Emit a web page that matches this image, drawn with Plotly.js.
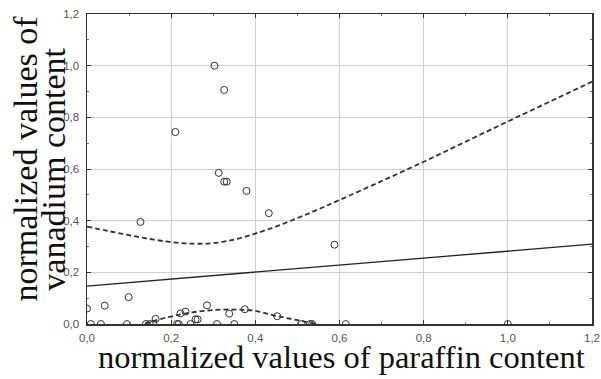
<!DOCTYPE html>
<html>
<head>
<meta charset="utf-8">
<script src="https://cdn.plot.ly/plotly-3.0.1.min.js"></script>
<style>html,body{margin:0;padding:0;background:#fff;}#chart{width:601px;height:379px;}</style>
</head>
<body>
<div id="chart"></div>
<script>
// Observed points (normalized paraffin vs. vanadium)
const paraffin = [0.0, 0.042, 0.099, 0.127, 0.21, 0.303, 0.326, 0.313, 0.326, 0.332, 0.379, 0.432, 0.588,
  0.009, 0.033, 0.095, 0.14, 0.149, 0.163, 0.158, 0.214, 0.218, 0.246, 0.258, 0.263, 0.309, 0.350,
  0.222, 0.234, 0.285, 0.338, 0.375, 0.452, 0.51, 0.53, 0.535, 0.615, 1.0];
const vanadium = [0.06, 0.071, 0.104, 0.395, 0.743, 1.0, 0.906, 0.585, 0.551, 0.551, 0.515, 0.429, 0.307,
  0.0, 0.0, 0.0, 0.0, 0.0, 0.02, 0.0, 0.0, 0.0, 0.0, 0.018, 0.018, 0.0, 0.0,
  0.041, 0.048, 0.072, 0.040, 0.057, 0.030, 0.0, 0.0, 0.0, 0.0, 0.0];

// Regression line
const fitX = [0, 1.2];
const fitY = [0.147, 0.309];

// Upper confidence band
const upperX = [0, 0.05, 0.1, 0.15, 0.2, 0.25, 0.3, 0.35, 0.4, 0.45, 0.5, 0.55, 0.6, 0.7, 0.8, 0.9, 1.0, 1.1, 1.2];
const upperY = [0.377, 0.360, 0.344, 0.329, 0.317, 0.311, 0.313, 0.327, 0.350, 0.378, 0.410, 0.444, 0.480, 0.553, 0.628, 0.706, 0.784, 0.861, 0.938];

// Lower confidence band (visible part)
const lowerX = [0.12, 0.15, 0.2, 0.25, 0.3, 0.35, 0.4, 0.45, 0.5, 0.55, 0.58];
const lowerY = [-0.01, 0.008, 0.029, 0.045, 0.054, 0.056, 0.051, 0.031, 0.015, -0.002, -0.015];

const xTickVals = [0, 0.2, 0.4, 0.6, 0.8, 1.0, 1.2];
const yTickVals = [0, 0.2, 0.4, 0.6, 0.8, 1.0, 1.2];

const traces = [
  {x: upperX, y: upperY, type: 'scatter', mode: 'lines', line: {color: '#333', width: 1.8, dash: '5px,3px', shape: 'spline', smoothing: 1}, hoverinfo: 'skip'},
  {x: lowerX, y: lowerY, type: 'scatter', mode: 'lines', line: {color: '#333', width: 1.8, dash: '5px,3px', shape: 'spline'}, hoverinfo: 'skip'},
  {x: fitX, y: fitY, type: 'scatter', mode: 'lines', line: {color: '#222', width: 1.3}},
  {x: paraffin, y: vanadium, type: 'scatter', mode: 'markers', cliponaxis: true,
   marker: {symbol: 'circle-open', size: 7, color: '#333', line: {width: 1, color: '#333'}}}
];

const axisCommon = {
  showline: true, linecolor: '#333', linewidth: 1.5, mirror: 'ticks',
  showgrid: true, gridcolor: '#cfcfcf', gridwidth: 1,
  zeroline: false, ticks: 'inside', ticklen: 4, tickcolor: '#333', tickwidth: 1,
  tickformat: '.1f',
  tickfont: {family: 'Liberation Sans, Arial, sans-serif', size: 11.5, color: '#555'},
  minor: {dtick: 0.1, ticks: 'inside', ticklen: 2, tickcolor: '#777', showgrid: false}
};

const layout = {
  width: 601, height: 379,
  margin: {l: 86.5, r: 8.5, t: 14, b: 55},
  paper_bgcolor: '#fff', plot_bgcolor: '#fff',
  showlegend: false,
  separators: ',.',
  xaxis: Object.assign({}, axisCommon, {range: [0, 1.2], tickvals: xTickVals, ticklabelstandoff: 3}),
  yaxis: Object.assign({}, axisCommon, {range: [0, 1.2], tickvals: yTickVals, ticklabelstandoff: 4}),
  annotations: [
    {text: 'normalized values of', xref: 'paper', yref: 'paper', x: -0.122, y: 0.535, textangle: -90,
     showarrow: false, xanchor: 'center', yanchor: 'middle',
     font: {family: 'Liberation Serif, Times New Roman, serif', size: 34, color: '#111'}},
    {text: 'vanadium content', xref: 'paper', yref: 'paper', x: -0.068, y: 0.5, textangle: -90,
     showarrow: false, xanchor: 'center', yanchor: 'middle',
     font: {family: 'Liberation Serif, Times New Roman, serif', size: 34, color: '#111'}},
    {text: 'normalized values of paraffin content', xref: 'paper', yref: 'paper', x: 0.503, y: -0.108,
     showarrow: false, xanchor: 'center', yanchor: 'middle',
     font: {family: 'Liberation Serif, Times New Roman, serif', size: 32.5, color: '#111'}}
  ]
};

Plotly.newPlot('chart', traces, layout, {staticPlot: true, displayModeBar: false});
</script>
</body>
</html>
